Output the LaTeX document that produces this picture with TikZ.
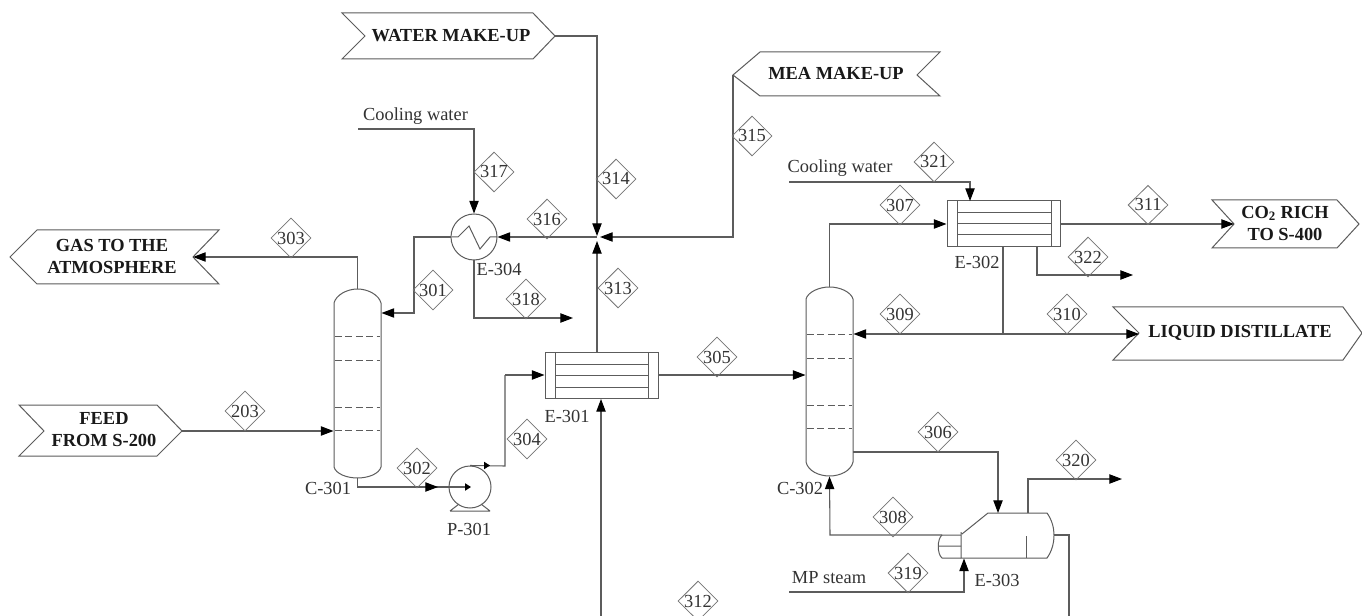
\documentclass[tikz,border=0pt]{standalone}
\usepackage{fontspec}
\setmainfont{Liberation Serif}
\usetikzlibrary{arrows.meta,shapes.geometric}
\definecolor{pipe}{HTML}{5C5C5C}
\tikzset{
  x=0.75pt,y=-0.75pt,
  every node/.style={font=\fontsize{13.8}{16}\selectfont,text=black!80},
  line/.style={draw=pipe,line width=0.8pt,line join=miter},
  flow/.style={line,-{Triangle[length=9.5pt,width=7pt,color=black]}},
  smalltip/.style={line,-{Triangle[length=4.5pt,width=5.5pt,color=black]}},
  equip/.style={line,line width=0.75pt},
  tray/.style={draw=pipe,line width=0.7pt,dash pattern=on 5.2pt off 2.6pt},
  tag/.style={diamond,draw=pipe!85,line width=0.6pt,minimum width=30pt,minimum height=28.5pt,inner sep=0pt},
  banner/.style={line,line width=0.75pt},
  btext/.style={font=\fontsize{13.8}{16.5}\selectfont\bfseries,align=center,text=black!90,inner sep=0pt},
  lab/.style={inner sep=0pt},
  hx/.style={equip,minimum width=84.75pt,minimum height=34.5pt,inner sep=0pt},
}
\begin{document}
\begin{tikzpicture}
\clip (0,0) rectangle (1362,616);
\fill[white] (0,0) rectangle (1362,616);

% banners
\draw[banner] (342,13)--(533,13)--(555,36)--(533,59)--(342,59)--(365,36)--cycle;
\node[btext] (bWater) at (451,36) {WATER MAKE-UP};
\coordinate (tWater) at (555,36);
\draw[banner] (733,75)--(760,52)--(940,52)--(917,75)--(940,96)--(760,96)--cycle;
\node[btext] (bMea) at (836,74) {MEA MAKE-UP};
\coordinate (tMea) at (733,75);
\draw[banner] (10,257)--(37,230)--(219,230)--(193,257)--(219,284)--(37,284)--cycle;
\node[btext] (bGas) at (112,256) {GAS TO THE\\ATMOSPHERE};
\coordinate (tGas) at (193,257);
\draw[banner] (19,405)--(157,405)--(182,431)--(157,456)--(19,456)--(44,431)--cycle;
\node[btext] (bFeed) at (104,430) {FEED\\FROM S-200};
\coordinate (tFeed) at (182,431);
\draw[banner] (1212,200)--(1337,200)--(1359,224)--(1337,248)--(1212,248)--(1234,224)--cycle;
\node[btext] (bCo) at (1285,223) {CO\textsubscript{2} RICH\\TO S-400};
\coordinate (tCo) at (1234,224);
\draw[banner] (1113,307)--(1343,307)--(1362,333)--(1343,360)--(1113,360)--(1139,333)--cycle;
\node[btext] (bLiq) at (1240,333) {LIQUID DISTILLATE};
\coordinate (tLiq) at (1139,334);

% C-301
\draw[equip] (334,303) .. controls (336,295) and (347,289) .. (357.5,289) .. controls (368,289) and (379,295) .. (381,303)
  -- (381,467) .. controls (379,474) and (368,478) .. (357.5,478) .. controls (347,478) and (336,474) .. (334,467) -- cycle;
\foreach \yy in {336,360,407,430} \draw[tray] (335,\yy) -- (380,\yy);
\coordinate (c1top) at (357.5,289);
\coordinate (c1bot) at (357.5,478);
\coordinate (c1r) at (381.5,313);
\coordinate (c1l) at (333.5,431);
\node[lab] (lC1) at (328,488) {C-301};

% C-302
\draw[equip] (806,299) .. controls (808,292) and (819,287) .. (829.5,287) .. controls (840,287) and (851,292) .. (853,299)
  -- (853,462) .. controls (851,471) and (840,476) .. (829.5,476) .. controls (819,476) and (808,471) .. (806,462) -- cycle;
\foreach \yy in {334,358,405,428} \draw[tray] (807,\yy) -- (852,\yy);
\coordinate (c2top) at (829.5,287);
\coordinate (c2bot) at (829.5,476.5);
\coordinate (c2l) at (805.5,375);
\coordinate (c2r) at (853.5,334);
\coordinate (c2rb) at (853,452);
\node[lab] (lC2) at (800,488) {C-302};

% E-301
\node[hx,draw] (E301) at (601.5,375) {};
\draw[equip] (555,352)--(555,398) (648,352)--(648,398) (555,364)--(648,364) (555,375)--(648,375) (555,387)--(648,387);
\node[lab] (lE1) at (567,416) {E-301};
% E-302
\node[hx,draw] (E302) at (1003.5,224) {};
\draw[equip] (957,201)--(957,247) (1051,201)--(1051,247) (957,213)--(1051,213) (957,224)--(1051,224) (957,235)--(1051,235);
\node[lab] (lE2) at (977,262) {E-302};
% E-304
\node[circle,equip,draw,minimum size=34.5pt,inner sep=0pt] (E304) at (474,237) {};
\draw[equip] (452,237)--(458,237)--(469,226)--(480,249)--(490,237)--(497,237);
\node[lab] (lE4) at (499,269) {E-304};
% P-301
\node[circle,equip,draw,minimum size=31.5pt,inner sep=0pt] (P301) at (470,487) {};
\draw[equip] (450,511)--(490,511) (450,511)--(459,504) (490,511)--(481,504);
\node[lab] (lP) at (469,529) {P-301};
% E-303
\draw[equip] (962,534)--(988,513)--(1047,513) .. controls (1052,520) and (1054,528) .. (1054,535) .. controls (1054,543) and (1052,551) .. (1047,558)--(961,558)--(961,532);
\draw[equip] (1026,536)--(1026,558);
\draw[equip] (961,535)--(942,535) .. controls (937,539) and (937,554) .. (942,558)--(961,558) (938.5,546)--(961,546);
\coordinate (e3top) at (998,513);
\coordinate (e3vap) at (1028,513);
\coordinate (e3l) at (942,535);
\coordinate (e3r) at (1054,535);
\coordinate (e3b) at (964,558.5);
\node[lab] (lE3) at (997,580) {E-303};

% junction and free ends
\coordinate (J) at (597,237);
\coordinate (jT) at (597,236);
\coordinate (jR) at (600,237);
\coordinate (jB) at (597,241);

% text labels
\node[lab] (cw1) at (415.5,116) {Cooling water};
\node[lab] (cw2) at (840,168) {Cooling water};
\node[lab] (mp) at (829,578) {MP steam};

% connectors
\draw[flow] (tWater) -- (597,36) -- (jT);
\draw[flow] (tMea) -- (733,237) -- (jR);
\draw[flow] (597,352) -- (jB);
\draw[flow] (J) -- (E304.east);
\coordinate (cw1s) at (358,129);
\coordinate (cw2s) at (789,182);
\coordinate (mps) at (789,592);
\coordinate (o318) at (573,318);
\coordinate (o322) at (1133,275);
\coordinate (o320) at (1122,479);
\coordinate (o312) at (601,630);
\coordinate (o3b) at (1069,630);
\draw[flow] (cw1s) -- (474,129) -- (E304.north);
\draw[flow] (E304.west) -- (414,237) -- (414,313) -- (c1r);
\draw[flow] (E304.south) -- (474,318) -- (o318);
\draw[flow] (c1top) -- (357.5,257) -- (tGas);
\draw[flow] (tFeed) -- (c1l);
\draw[line] (c1bot) -- (357.5,487) -- (468,487);
\path (357.5,487) edge[flow] (438,487);
\draw[smalltip] (P301.center) ++(-5,0) -- ++(6,0);
\draw[line] (P301.north) -- (505,466) -- (505,375);
\draw[smalltip] (P301.north) ++(12,0) -- ++(8,0);
\draw[flow] (505,375) -- (E301.west);
\draw[flow] (o312) -- (601,399);
\draw[flow] (E301.east) -- (c2l);
\draw[flow] (c2top) -- (829.5,224) -- (E302.west);
\draw[flow] (cw2s) -- (970,182) -- (970,201);
\draw[flow] (E302.east) -- (tCo);
\draw[flow] (1037,247) -- (1037,275) -- (o322);
\draw[line] (1003,247) -- (1003,334);
\draw[flow] (1003,334) -- (c2r);
\draw[flow] (1003,334) -- (tLiq);
\draw[flow] (c2rb) -- (998,452) -- (e3top);
\draw[flow] (e3vap) -- (1028,479) -- (o320);
\draw[flow] (e3l) -- (830,535) -- (c2bot);
\draw[flow] (mps) -- (964,592) -- (e3b);
\draw[line] (e3r) -- (1069,535) -- (o3b);

% stream tags
\foreach \nm/\px/\py in {203/245/411,303/291/238,301/433/290,302/417/468,304/527/439,305/717/357,306/938/432,307/900/205,308/893/517,309/900/314,310/1067/314,311/1148/205,312/698/601,313/618/288,314/616/179,315/752/136,316/547/219,317/494/172,318/526/299,319/908/573,320/1076/460,321/934/162,322/1088/257}
  \node[tag] (s\nm) at (\px,\py) {\nm};
\end{tikzpicture}
\end{document}
